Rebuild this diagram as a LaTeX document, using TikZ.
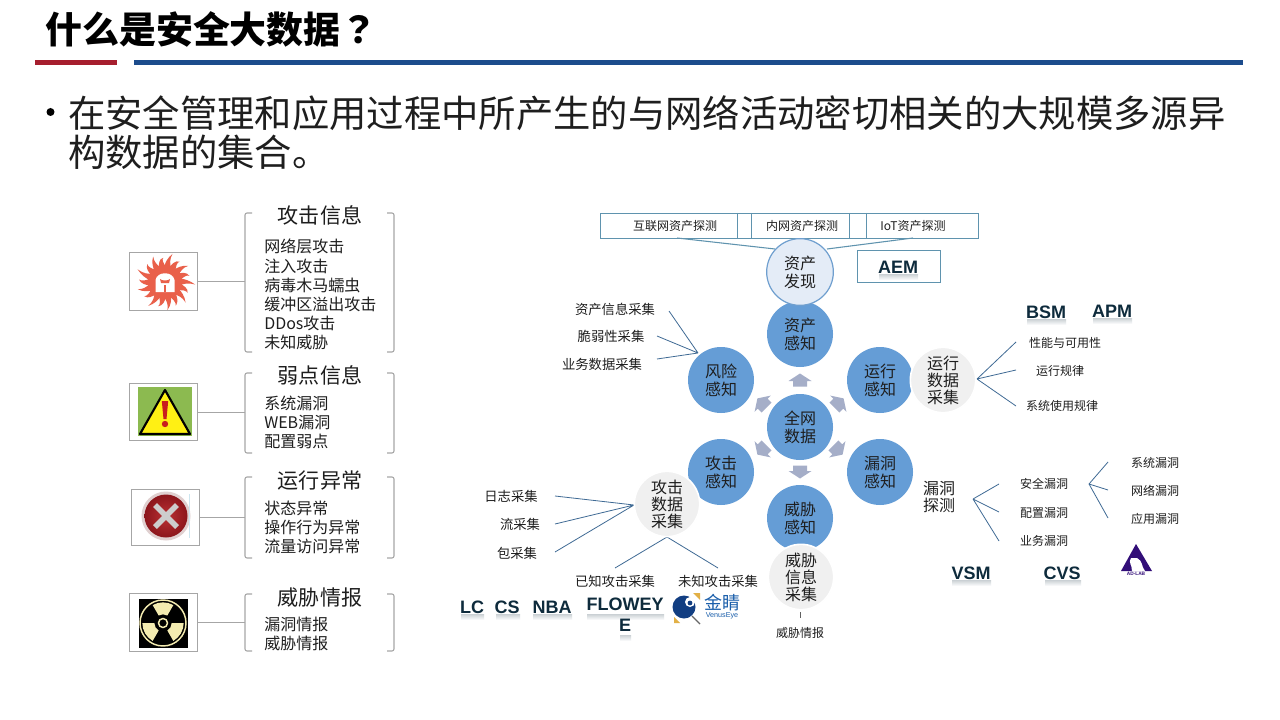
\documentclass[tikz,border=0pt]{standalone}
\usepackage{fontspec}
\setmainfont{Noto Sans CJK SC}
\newfontfamily\tcfont{Noto Sans CJK TC}
\newfontfamily\arialf{Liberation Sans}
\definecolor{circblue}{HTML}{659DD6}
\definecolor{greyc}{HTML}{F0F0F0}
\definecolor{discfill}{HTML}{E4ECF7}
\definecolor{discline}{HTML}{6F9FCF}
\definecolor{linkc}{HTML}{3F6A94}
\definecolor{boxline}{HTML}{5F93AE}
\definecolor{greyline}{HTML}{A6A6A6}
\definecolor{arrowc}{HTML}{A5AEC8}
\definecolor{inkc}{HTML}{1E1E1E}
\definecolor{logoc}{HTML}{0E2B3C}
\definecolor{sunred}{HTML}{E9604A}
\definecolor{paley}{HTML}{F3EBB0}
\tikzset{
  main/.style={circle,fill=circblue,minimum size=49.5pt,inner sep=0pt,align=center,text=inkc,font=\fontsize{12}{13.5}\selectfont},
  grey/.style={circle,fill=greyc,draw=white,line width=1.2pt,minimum size=49pt,inner sep=0pt,align=center,text=inkc,font=\fontsize{12}{12.8}\selectfont},
  disc/.style={circle,fill=discfill,draw=discline,line width=0.9pt,minimum size=50pt,inner sep=0pt,align=center,text=inkc,font=\fontsize{12}{13.5}\selectfont},
  small/.style={inner sep=0pt,text=inkc,font=\fontsize{10}{11}\selectfont},
  topl/.style={inner sep=0pt,text=inkc,font=\fontsize{9}{10}\selectfont},
  head/.style={inner sep=0pt,text=inkc,font=\fontsize{15.8}{17}\selectfont},
  items/.style={inner sep=0pt,text=inkc,anchor=west,align=left,font=\fontsize{12}{14.3}\selectfont},
  logot/.style={inner sep=0pt,text=logoc,align=center,font=\arialf\bfseries\fontsize{13.5}{15.5}\selectfont},
  link/.style={draw=linkc,line width=0.6pt},
  gline/.style={draw=greyline,line width=0.7pt},
  bracket/.style={draw=greyline,line width=0.8pt,rounded corners=1.5pt},
  icon/.style={draw=greyline,line width=0.7pt,fill=white},
  tbox/.style={draw=boxline,line width=0.7pt,fill=white},
  blockarrow/.style={fill=arrowc},
  refl/.style={top color=logoc!22,bottom color=white,draw=none}
}
\begin{document}
\begin{tikzpicture}[x=0.75pt,y=-0.75pt]
\useasboundingbox (0,0) rectangle (1280,720);
\fill[white] (0,0) rectangle (1280,720);

% title
\node[anchor=west,inner sep=0pt,font=\bfseries\fontsize{27.7}{30}\selectfont] (title) at (45,29.5) {什么是安全大数据{\tcfont\bfseries ？}};
\fill[fill={rgb,255:red,166;green,30;blue,46}] (35,60) rectangle (117,65);
\fill[fill={rgb,255:red,28;green,76;blue,140}] (134,60) rectangle (1243,65);
\fill[black] (50.5,112) circle[radius=4];
\node[anchor=north west,inner sep=0pt,align=left,font=\fontsize{28}{29.2}\selectfont,text=inkc] (lead) at (68,95) {在安全管理和应用过程中所产生的与网络活动密切相关的大规模多源异\\构数据的集合。};

% left column: boxes
\node[icon,minimum width=51.5pt,minimum height=43pt,inner sep=0pt] (ic1) at (163.5,281.5) {};
\node[icon,minimum width=51.5pt,minimum height=43pt,inner sep=0pt] (ic2) at (163.5,412) {};
\node[icon,minimum width=51pt,minimum height=42pt,inner sep=0pt] (ic3) at (165,517) {};
\node[icon,minimum width=51.5pt,minimum height=43pt,inner sep=0pt] (ic4) at (163.5,622.5) {};

% icon 1: sun
\begin{scope}[shift={(165,282)}]
\fill[sunred] (0,0) circle[radius=17];
\foreach \a/\l in {0/30,20/25,40/28,60/25,80/29,100/24,120/28,140/25,160/30,180/26,200/28,220/25,240/29,260/25,280/28,300/26,320/29,340/25}
  \fill[sunred,rotate=\a] (14,-3.8) .. controls (19,-3) and (24,-2) .. (\l,2.5) .. controls (23,0.5) and (19,1.5) .. (14,3.8) -- cycle;
\fill[white] (-9.5,-2) .. controls (-8,-11) and (8,-11) .. (9.5,-2) -- (9.5,10) -- (-9.5,10) -- cycle;
\fill[sunred] (-5,-3) .. controls (-3,-1) and (3,-1) .. (5,-3) -- (4,1) -- (-4,1) -- cycle;
\fill[sunred] (-0.7,3) rectangle (0.7,10);
\end{scope}

% icon 2: warning sign
\fill[fill={rgb,255:red,140;green,186;blue,80}] (138,387) rectangle (192,436);
\fill[fill={rgb,255:red,255;green,240;blue,20},draw=black,line width=1.6pt,line join=round] (165,390) -- (190,434) -- (140,434) -- cycle;
\fill[fill={rgb,255:red,200;green,30;blue,30}] (161.8,401) -- (168.2,401) -- (166.5,419) -- (163.5,419) -- cycle;
\fill[fill={rgb,255:red,200;green,30;blue,30}] (165,424) circle[radius=3.2];

% icon 3: error disc
\fill[fill={rgb,255:red,224;green,208;blue,208}] (166,516) circle[radius=24.5];
\shade[inner color={rgb,255:red,186;green,48;blue,50},outer color={rgb,255:red,140;green,22;blue,28}] (166,516) circle[radius=21.5];
\draw[fill=none,draw={rgb,255:red,205;green,205;blue,205},line width=4pt] (155,505) -- (177,527) (177,505) -- (155,527);
\draw[draw={rgb,255:red,205;green,230;blue,240},line width=0.5pt] (189,494) -- (189,538);

% icon 4: radiation
\fill[black] (139,599) rectangle (188,648);
\begin{scope}[shift={(163,623)}]
\draw[draw=paley,line width=1.1pt] (0,0) circle[radius=23];
\draw[draw=paley,line width=1.1pt] (0,0) circle[radius=4.5];
\foreach \r in {0,120,240}
  \fill[fill=paley,rotate=\r] (60:6.5pt) arc[start angle=60,end angle=120,radius=6.5pt] -- (120:15.5pt) arc[start angle=120,end angle=60,radius=15.5pt] -- cycle;
\end{scope}

% brackets
\draw[bracket] (252,213) -- (245,213) -- (245,352) -- (252,352);
\draw[bracket] (387,213) -- (394,213) -- (394,352) -- (387,352);
\draw[bracket] (252,373) -- (245,373) -- (245,453) -- (252,453);
\draw[bracket] (387,373) -- (394,373) -- (394,453) -- (387,453);
\draw[bracket] (252,477) -- (245,477) -- (245,558) -- (252,558);
\draw[bracket] (387,477) -- (394,477) -- (394,558) -- (387,558);
\draw[bracket] (252,594) -- (245,594) -- (245,651) -- (252,651);
\draw[bracket] (387,594) -- (394,594) -- (394,651) -- (387,651);
\coordinate (b1) at (245,281.5);
\coordinate (b2) at (245,412);
\coordinate (b3) at (245,517);
\coordinate (b4) at (245,622.5);
\draw[gline] (ic1.east) -- (b1);
\draw[gline] (ic2.east) -- (b2);
\draw[gline] (ic3.east) -- (b3);
\draw[gline] (ic4.east) -- (b4);

\node[head] (h1) at (320,215) {攻击信息};
\node[head] (h2) at (320,375) {弱点信息};
\node[head] (h3) at (320,481) {运行异常};
\node[head] (h4) at (320,598) {威胁情报};
\node[items] (i1) at (264,294.5) {网络层攻击\\注入攻击\\病毒木马蠕虫\\缓冲区溢出攻击\\DDos攻击\\未知威胁};
\node[items] (i2) at (264,422.5) {系统漏洞\\WEB漏洞\\配置弱点};
\node[items] (i3) at (264,527.5) {状态异常\\操作行为异常\\流量访问异常};
\node[items] (i4) at (264,634) {漏洞情报\\威胁情报};

% top boxes
\draw[tbox] (600,213) rectangle (978,238);
\draw[draw=boxline,line width=0.7pt] (737,213) -- (737,238) (751,213) -- (751,238) (849,213) -- (849,238) (866,213) -- (866,238);
\node[topl] (t1) at (675,226) {互联网资产探测};
\node[topl] (t2) at (802,226) {内网资产探测};
\node[topl] (t3) at (913,226) {IoT资产探测};
\draw[tbox] (857,250) rectangle (940,282);
\shade[refl] (879,274) rectangle (918,280);
\node[logot] (aem) at (898,267) {AEM};

% free ends of connectors
\coordinate (d1) at (677,238);
\coordinate (d2) at (913,238);
\coordinate (r0) at (698,353);
\coordinate (r1) at (669,311);
\coordinate (r2) at (657,336);
\coordinate (r3) at (657,359);
\coordinate (o0) at (977,379);
\coordinate (o1) at (1016,342);
\coordinate (o2) at (1016,370);
\coordinate (o3) at (1016,406);
\coordinate (v0) at (973,499);
\coordinate (v1) at (999,484);
\coordinate (v2) at (999,512);
\coordinate (v3) at (999,541);
\coordinate (w0) at (1089,484);
\coordinate (w1) at (1108,462);
\coordinate (w2) at (1108,490);
\coordinate (w3) at (1108,518);
\coordinate (a0) at (634,505);
\coordinate (a1) at (555,496);
\coordinate (a2) at (555,524);
\coordinate (a3) at (555,552);
\coordinate (a4) at (667,537);
\coordinate (a5) at (615,568);
\coordinate (a6) at (718,568);
\coordinate (k1) at (800,612);
\coordinate (k2) at (800,618);

\draw[draw=boxline,line width=0.8pt] (d1) -- (775,249);
\draw[draw=boxline,line width=0.8pt] (d2) -- (827,249);
\draw[link] (r0) -- (r1) (r0) -- (r2) (r0) -- (r3);
\draw[link] (o0) -- (o1) (o0) -- (o2) (o0) -- (o3);
\draw[link] (v0) -- (v1) (v0) -- (v2) (v0) -- (v3);
\draw[link] (w0) -- (w1) (w0) -- (w2) (w0) -- (w3);
\draw[link] (a0) -- (a1) (a0) -- (a2) (a0) -- (a3);
\draw[link] (a4) -- (a5) (a4) -- (a6);
\draw[draw=inkc!70,line width=0.6pt] (k1) -- (k2);

% circles
\node[main] (core) at (800,427) {全网\\数据};
\node[main] (asset) at (800,334) {资产\\感知};
\node[main] (risk) at (721,380) {风险\\感知};
\node[main] (oper) at (880,380) {运行\\感知};
\node[main] (atk) at (721,472) {攻击\\感知};
\node[main] (vul) at (880,472) {漏洞\\感知};
\node[main] (thr) at (800,518) {威胁\\感知};
\node[disc] (disc) at (800,272) {资产\\发现};
\node[grey] (gop) at (943,380) {运行\\数据\\采集};
\node[grey] (gatk) at (667,504) {攻击\\数据\\采集};
\node[grey] (gthr) at (801,577) {威胁\\信息\\采集};
\node[inner sep=0pt,align=center,text=inkc,font=\fontsize{12}{12.8}\selectfont] (vtext) at (939,497) {漏洞\\探测};

% block arrows
\foreach \x/\y/\r in {800/380/0,762/403/45,839/403/-45,762/450/135,838/450/-135,800/472/180}
  \fill[blockarrow,shift={(\x,\y)},rotate=\r] (0,-6.5) -- (11.5,1) -- (7,1) -- (7,6.5) -- (-7,6.5) -- (-7,1) -- (-11.5,1) -- cycle;

% labels
\node[small] (l1) at (615,309.5) {资产信息采集};
\node[small] (l2) at (611,336.5) {脆弱性采集};
\node[small] (l3) at (602,364.5) {业务数据采集};
\node[topl] (l4) at (1065,342.5) {性能与可用性};
\node[topl] (l5) at (1060,370.5) {运行规律};
\node[topl] (l6) at (1062,405.5) {系统使用规律};
\node[topl] (l7) at (1044,483.5) {安全漏洞};
\node[topl] (l8) at (1044,512.5) {配置漏洞};
\node[topl] (l9) at (1044,540.5) {业务漏洞};
\node[topl] (l10) at (1155,462.5) {系统漏洞};
\node[topl] (l11) at (1155,490.5) {网络漏洞};
\node[topl] (l12) at (1155,518.5) {应用漏洞};
\node[small] (l13) at (511,496.5) {日志采集};
\node[small] (l14) at (520,524.5) {流采集};
\node[small] (l15) at (517,553.5) {包采集};
\node[small] (l16) at (615,581.5) {已知攻击采集};
\node[small] (l17) at (718,581.5) {未知攻击采集};
\node[topl] (l18) at (800,632.5) {威胁情报};

% product marks with soft reflections
\shade[refl] (1027,319) rectangle (1066,325);
\shade[refl] (1093,318) rectangle (1132,324);
\shade[refl] (952,580) rectangle (991,586);
\shade[refl] (1045,580) rectangle (1081,586);
\shade[refl] (461,614) rectangle (484,620);
\shade[refl] (496,614) rectangle (520,620);
\shade[refl] (533,614) rectangle (572,620);
\shade[refl] (587,614) rectangle (664,620);
\shade[refl] (620,635) rectangle (631,641);
\node[logot] (bsm) at (1046,312) {BSM};
\node[logot] (apm) at (1112,311) {APM};
\node[logot] (vsm) at (971,573) {VSM};
\node[logot] (cvs) at (1062,573) {CVS};
\node[logot] (lc) at (472,607) {LC};
\node[logot] (cs) at (507,607) {CS};
\node[logot] (nba) at (552,607) {NBA};
\node[logot,anchor=north] (flow) at (625,598) {FLOWEY\\E};

% VenusEye logo
\fill[fill={rgb,255:red,226;green,176;blue,70}] (693,593) -- (700,593) -- (700,600) -- cycle;
\fill[fill={rgb,255:red,226;green,176;blue,70}] (674,617) -- (680,623) -- (674,623) -- cycle;
\draw[draw=black!60,line width=1pt] (692,616) -- (700,624);
\fill[fill={rgb,255:red,18;green,62;blue,130}] (684,607) circle[radius=11.5];
\fill[white] (690,602) circle[radius=5];
\fill[fill={rgb,255:red,18;green,62;blue,130}] (690,603) circle[radius=2.4];
\node[inner sep=0pt,text={rgb,255:red,27;green,95;blue,171},font=\fontsize{13.5}{15}\selectfont] (jj) at (722,603) {金睛};
\node[inner sep=0pt,text={rgb,255:red,27;green,95;blue,171},font=\arialf\fontsize{5.4}{6}\selectfont] (ve) at (722,615.5) {VenusEye};

% AD-LAB logo
\fill[fill={rgb,255:red,50;green,14;blue,120}] (1136,544) -- (1152,571) -- (1121,571) -- cycle;
\fill[white] (1132,571) .. controls (1132,564) and (1128,563) .. (1131,558) -- (1137,558) .. controls (1143,561) and (1141,566) .. (1145,571) -- cycle;
\node[inner sep=0pt,text={rgb,255:red,50;green,14;blue,120},font=\arialf\bfseries\fontsize{3.6}{4}\selectfont] (adl) at (1136,574) {AD-LAB};
\end{tikzpicture}
\end{document}
